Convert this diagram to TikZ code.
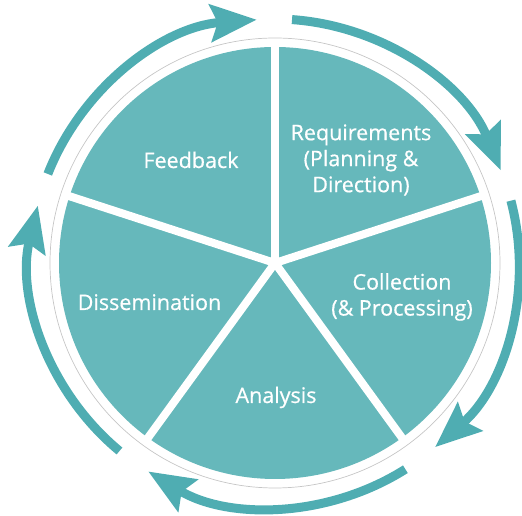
\documentclass[tikz,border=0pt]{standalone}
\usepackage{fontspec}
\setmainfont{Open Sans}
\newfontfamily\lblfont{Open Sans}[FakeBold=0.6]
\usetikzlibrary{arrows.meta}
\definecolor{wedge}{HTML}{66B8BB}
\definecolor{ring}{HTML}{4FADB2}
\begin{document}
\begin{tikzpicture}[x=1pt,y=1pt,
  cyc/.style={draw=ring, line width=9pt, -{Stealth[length=46pt,width=37pt,inset=7pt]}},
  lbl/.style={text=white, font=\lblfont\fontsize{21.5}{26}\selectfont, align=center, inner sep=0pt},
  divider/.style={draw=white, line width=8pt}]
\clip (0,0) rectangle (522,516);
\useasboundingbox (0,0) rectangle (522,516);
\coordinate (c) at (275,253);
\draw[gray!45, line width=0.7pt] (c) circle[radius=225];
\fill[wedge] (c) circle[radius=216];
\foreach \a in {90,162,234,306,18} { \draw[divider] (c) -- ++(\a:224); }
% cycle arrows
\draw[cyc] (c) ++(158.6:244) arc[start angle=158.6, end angle=94.3, radius=244];
\draw[cyc] (c) ++(86:244) arc[start angle=86, end angle=22.3, radius=244];
\draw[cyc] (c) ++(14.8:244) arc[start angle=14.8, end angle=-49, radius=244];
\draw[cyc] (c) ++(-57.7:244) arc[start angle=-57.7, end angle=-121.3, radius=244];
\draw[cyc] (c) ++(-129.6:244) arc[start angle=-129.6, end angle=-193.6, radius=244];
% labels
\node[lbl, anchor=base] (fb) at (191,348) {Feedback};
\node[lbl] (req) at (361,356) {Requirements\\(Planning \&\\Direction)};
\node[lbl] (col) at (402,219) {Collection\\(\& Processing)};
\node[lbl, anchor=base] (dis) at (149.5,206) {Dissemination};
\node[lbl, anchor=base] (ana) at (276,113) {Analysis};
\end{tikzpicture}
\end{document}
